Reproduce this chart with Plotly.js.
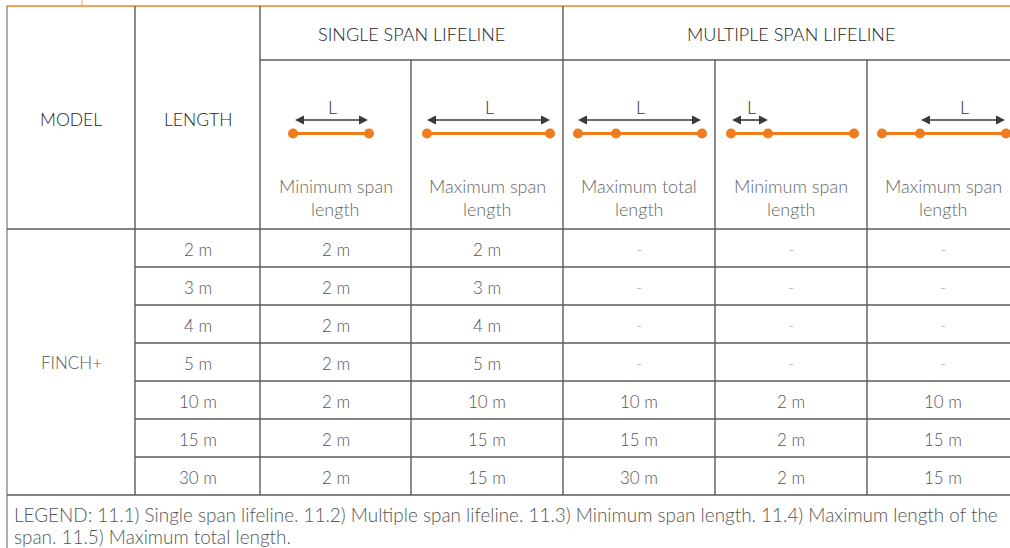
<!DOCTYPE html>
<html>
<head>
<meta charset="utf-8">
<script src="https://cdn.plot.ly/plotly-3.0.1.min.js"></script>
<style>html,body{margin:0;padding:0;background:#fff;}#chart{width:1010px;height:548px;}</style>
</head>
<body>
<div id="chart"></div>
<script>
// ---- data ----
var model = "FINCH+";
var groupHeaders = ["SINGLE SPAN LIFELINE", "MULTIPLE SPAN LIFELINE"];
var colHeaders = ["MODEL", "LENGTH"];
var subHeaders = [
  ["Minimum span", "length"],
  ["Maximum span", "length"],
  ["Maximum total", "length"],
  ["Minimum span", "length"],
  ["Maximum span", "length"]
];
var lengths    = ["2 m", "3 m", "4 m", "5 m", "10 m", "15 m", "30 m"];
var singleMin  = ["2 m", "2 m", "2 m", "2 m", "2 m", "2 m", "2 m"];
var singleMax  = ["2 m", "3 m", "4 m", "5 m", "10 m", "15 m", "15 m"];
var multiTotal = ["-", "-", "-", "-", "10 m", "15 m", "30 m"];
var multiMin   = ["-", "-", "-", "-", "2 m", "2 m", "2 m"];
var multiMax   = ["-", "-", "-", "-", "10 m", "15 m", "15 m"];
var legendLines = [
  "LEGEND: 11.1) Single span lifeline. 11.2) Multiple span lifeline. 11.3) Minimum span length. 11.4) Maximum length of the",
  "span. 11.5) Maximum total length."
];

// ---- layout geometry ----
var colX = [7, 135, 260, 411, 563, 715, 867, 1019];
var topY = 6, midY = 60, headY = 229, rowH = 38, bottomY = headY + rowH * lengths.length;
var FONT = "Lato, 'Open Sans', sans-serif";
var ORANGE = "#EF7D1E", GRID = "#5a5a5a";

var shapes = [], ann = [], traces = [];
function line(x0, y0, x1, y1, c, w) {
  shapes.push({type: "line", xref: "x", yref: "y", x0: x0, y0: y0, x1: x1, y1: y1,
    line: {color: c || GRID, width: w || 1.4}, layer: "above"});
}
function txt(x, y, s, size, color, anchor, weight) {
  ann.push({xref: "x", yref: "y", x: x, y: y, text: s, showarrow: false,
    xanchor: anchor || "center", yanchor: "middle",
    font: {family: FONT, size: size, color: color, weight: weight || 300}});
}
function cx(i) { return (colX[i] + colX[i + 1]) / 2; }

// borders
line(7, topY, 1010, topY, "#F4A259", 2);
line(82, 0, 82, topY, "#F4A259", 1);
line(7, topY, 7, 548, "#8a8a8a", 1.4);
line(colX[1], topY, colX[1], bottomY);
line(colX[2], topY, colX[2], bottomY);
line(colX[4], topY, colX[4], bottomY);
[3, 5, 6].forEach(function (i) { line(colX[i], midY, colX[i], bottomY); });
line(colX[2], midY, 1010, midY);
line(7, headY, 1010, headY);
for (var r = 1; r < lengths.length; r++) line(colX[1], headY + r * rowH, 1010, headY + r * rowH);
line(7, bottomY, 1010, bottomY);

// headers
txt(cx(0), 119, colHeaders[0], 17.5, "#222");
txt(cx(1), 119, colHeaders[1], 17.5, "#222");
txt((colX[2] + colX[4]) / 2, 34, groupHeaders[0], 18, "#222");
txt((colX[4] + colX[7]) / 2, 34, groupHeaders[1], 18, "#222");
subHeaders.forEach(function (s, i) {
  txt(cx(i + 2), 186, s[0], 18, "#666");
  txt(cx(i + 2), 209, s[1], 18, "#666");
});

// icons: supports (dots), arrow extent, L label
var icons = [
  {dots: [293, 369], arrow: [295, 368]},
  {dots: [427, 550], arrow: [427, 550]},
  {dots: [578, 616, 702], arrow: [578, 701]},
  {dots: [731, 768, 854], arrow: [732, 768]},
  {dots: [882, 920, 1006], arrow: [921, 1005]}
];
var lineY = 133.5, arrY = 120;
icons.forEach(function (ic) {
  var d = ic.dots;
  line(d[0], lineY, d[d.length - 1], lineY, ORANGE, 2.8);
  traces.push({type: "scatter", mode: "markers", x: d, y: d.map(function () { return lineY; }),
    marker: {size: 10, color: ORANGE}, hoverinfo: "skip", showlegend: false});
  var a0 = ic.arrow[0], a1 = ic.arrow[1], h = 9, hw = 4.5;
  line(a0 + h - 1, arrY, a1 - h + 1, arrY, "#3a3a3a", 1.6);
  shapes.push({type: "path", xref: "x", yref: "y", layer: "above",
    path: "M" + a0 + "," + arrY + " L" + (a0 + h) + "," + (arrY - hw) + " L" + (a0 + h) + "," + (arrY + hw) + " Z",
    fillcolor: "#3a3a3a", line: {width: 0}});
  shapes.push({type: "path", xref: "x", yref: "y", layer: "above",
    path: "M" + a1 + "," + arrY + " L" + (a1 - h) + "," + (arrY - hw) + " L" + (a1 - h) + "," + (arrY + hw) + " Z",
    fillcolor: "#3a3a3a", line: {width: 0}});
  txt((a0 + a1) / 2 + 1, 107, "L", 18, "#333");
});

// body
var cols = [lengths, singleMin, singleMax, multiTotal, multiMin, multiMax];
txt(cx(0), headY + 3.5 * rowH, model, 17, "#555");
cols.forEach(function (arr, ci) {
  arr.forEach(function (v, ri) {
    txt(cx(ci + 1), headY + ri * rowH + rowH / 2 + 1, v, 17, v === "-" ? "#aaa" : "#555");
  });
});

// legend
legendLines.forEach(function (s, i) {
  txt(12, 514 + i * 22, s, 18.9, "#555", "left");
});

var layout = {
  width: 1010, height: 548,
  margin: {l: 0, r: 0, t: 0, b: 0},
  paper_bgcolor: "#fff", plot_bgcolor: "#fff",
  xaxis: {range: [0, 1010], visible: false, fixedrange: true},
  yaxis: {range: [548, 0], visible: false, fixedrange: true},
  shapes: shapes, annotations: ann, showlegend: false
};
Plotly.newPlot("chart", traces, layout, {displayModeBar: false, staticPlot: true});
</script>
</body>
</html>
